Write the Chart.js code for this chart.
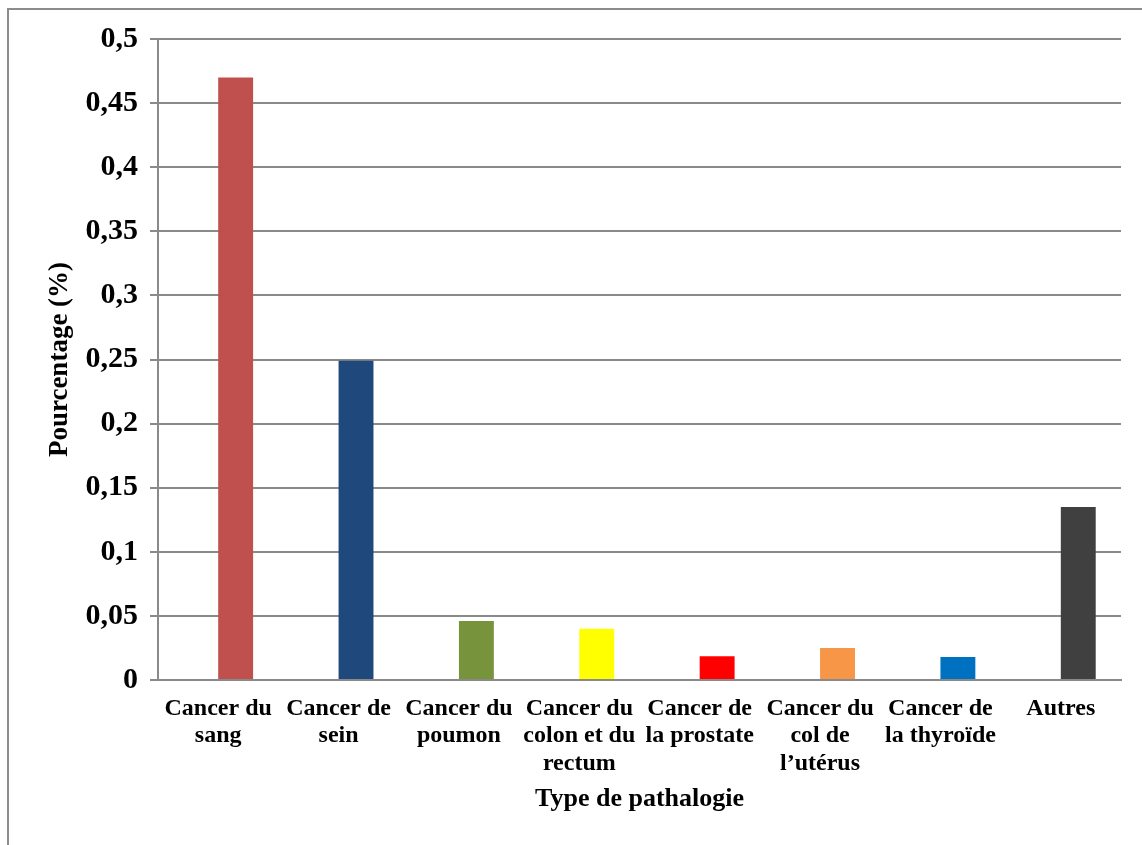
<!DOCTYPE html>
<html lang="fr">
<head>
<meta charset="utf-8">
<title>Type de pathalogie</title>
<script src="https://cdn.jsdelivr.net/npm/chart.js@4.4.1/dist/chart.umd.min.js"></script>
<style>
  html, body { margin: 0; padding: 0; background: #fff; }
  body { width: 1142px; height: 845px; position: relative; overflow: hidden; }
  /* cadre du graphique (bord haut + gauche) */
  .cadre {
    position: absolute; left: 7px; top: 8px; width: 1300px; height: 1000px;
    border-top: 2px solid #8c8c8c; border-left: 2px solid #8c8c8c;
  }
  .chart-box { position: absolute; left: 0; top: 0; width: 1142px; height: 845px; }
</style>
</head>
<body>
<div class="cadre"></div>
<div class="chart-box"><canvas id="chartPathologie"></canvas></div>

<script>
// Données
var categories = [
  ['Cancer du', 'sang'],
  ['Cancer de', 'sein'],
  ['Cancer du', 'poumon'],
  ['Cancer du', 'colon et du', 'rectum'],
  ['Cancer de', 'la prostate'],
  ['Cancer du', 'col de', 'l\u2019utérus'],
  ['Cancer de', 'la thyroïde'],
  'Autres'
];
var pourcentages = [0.47, 0.249, 0.046, 0.04, 0.0185, 0.025, 0.018, 0.135];
// série vide d'Excel : décale les barres à droite du centre de catégorie
var serieVide = [null, null, null, null, null, null, null, null];
var couleurs = ['#c0504d', '#1f497d', '#77933c', '#ffff00', '#ff0000', '#f79646', '#0070c0', '#404040'];
var yTickLabels = ['0', '0,05', '0,1', '0,15', '0,2', '0,25', '0,3', '0,35', '0,4', '0,45', '0,5'];

var police = 'Liberation Serif, Times New Roman, serif';
var gris = '#8a8a8a';

var ctx = document.getElementById('chartPathologie');
new Chart(ctx, {
  type: 'bar',
  data: {
    labels: categories,
    datasets: [
      { label: '', data: serieVide, backgroundColor: 'transparent' },
      { label: 'Pourcentage', data: pourcentages, backgroundColor: couleurs, borderWidth: 0 }
    ]
  },
  options: {
    responsive: true,
    maintainAspectRatio: false,
    animation: false,
    categoryPercentage: 0.58,
    barPercentage: 1,
    layout: { padding: { left: 40, top: 39, right: 21, bottom: 26 } },
    plugins: { legend: { display: false }, tooltip: { enabled: false } },
    scales: {
      x: {
        grid: { display: false, drawTicks: false },
        border: { display: true, color: gris, width: 2 },
        ticks: {
          color: '#000',
          padding: 15,
          maxRotation: 0,
          autoSkip: false,
          font: { family: police, size: 24, weight: 'bold', lineHeight: 1.14 }
        },
        title: {
          display: true,
          text: 'Type de pathalogie',
          color: '#000',
          padding: { top: 4, bottom: 4 },
          font: { family: police, size: 26, weight: 'bold', lineHeight: 1.2 }
        },
        afterFit: function (scale) { scale.height = 139; }
      },
      y: {
        min: 0,
        max: 0.5,
        grid: { color: gris, lineWidth: 2, tickLength: 8, drawTicks: true },
        border: { display: true, color: gris, width: 2 },
        ticks: {
          stepSize: 0.05,
          color: '#000',
          padding: 12,
          font: { family: police, size: 30, weight: 'bold' },
          callback: function (value, index) { return yTickLabels[index]; }
        },
        title: {
          display: true,
          text: 'Pourcentage (%)',
          color: '#000',
          padding: { top: 4, bottom: 4 },
          font: { family: police, size: 27, weight: 'bold', lineHeight: 1.2 }
        },
        afterFit: function (scale) { scale.width = 118; }
      }
    }
  }
});
</script>
</body>
</html>
